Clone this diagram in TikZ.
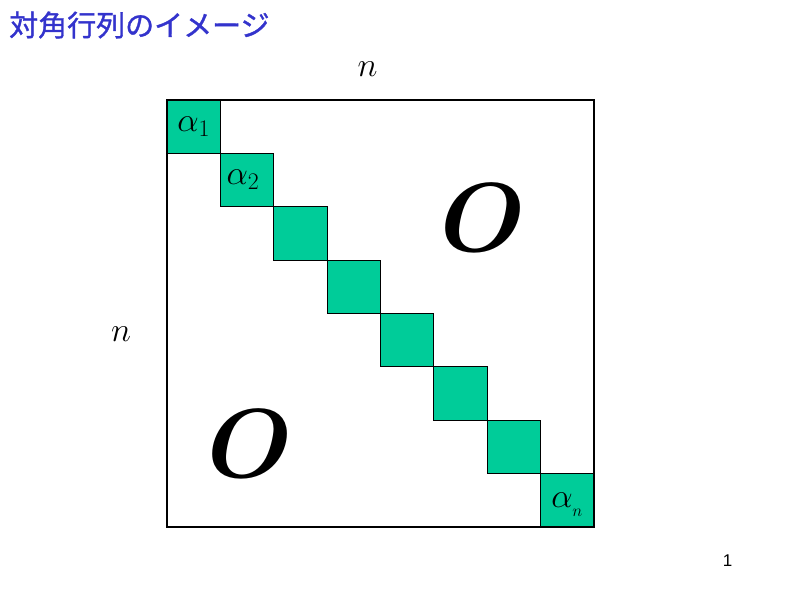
\RequirePackage{fix-cm}
\documentclass[tikz,border=0pt]{standalone}
\usepackage{fontspec}
\newfontfamily\cjk[FakeBold=1.2]{Noto Sans CJK JP}
\newfontfamily\pgnum{Liberation Sans}
\definecolor{teal1}{HTML}{00CC99}
\definecolor{titleblue}{HTML}{3333CC}
\begin{document}
\begin{tikzpicture}[x=1pt,y=-1pt,
  cellbox/.style={draw=black, line width=0.8pt, fill=teal1},
  frame/.style={draw=black, line width=2.4pt},
  mtext/.style={inner sep=0pt, font=\fontsize{34}{34}\selectfont},
  bigo/.style={inner sep=0pt, font=\fontsize{98}{98}\selectfont\boldmath}]
\useasboundingbox (0,0) rectangle (800,600);
\node[anchor=base west, inner sep=0pt, text=titleblue, font=\fontsize{29}{29}\selectfont\cjk] (title) at (9,36) {対角行列のイメージ};
\foreach \i in {0,...,7} {
  \path[cellbox] ({167+53.375*\i},{100+53.375*\i}) rectangle ++(53.375,53.375);
}
\draw[frame] (167,100) rectangle (594,527);
\node[mtext] (a1) at (193.7,127) {$\alpha_1$};
\node[mtext] (a2) at (243.0,180.0) {$\alpha_2$};
\node[mtext] (an) at (567.3,505) {$\alpha_{{}_n}$};
\node[mtext] (ntop) at (367.5,69.5) {$n$};
\node[mtext] (nleft) at (121,334.5) {$n$};
\node[bigo] (o1) at (483.5,218) {$O$};
\node[bigo] (o2) at (250,444) {$O$};
\node[anchor=base, inner sep=0pt, font=\fontsize{17}{17}\selectfont\pgnum] (pg) at (727.5,566) {1};
\end{tikzpicture}
\end{document}
